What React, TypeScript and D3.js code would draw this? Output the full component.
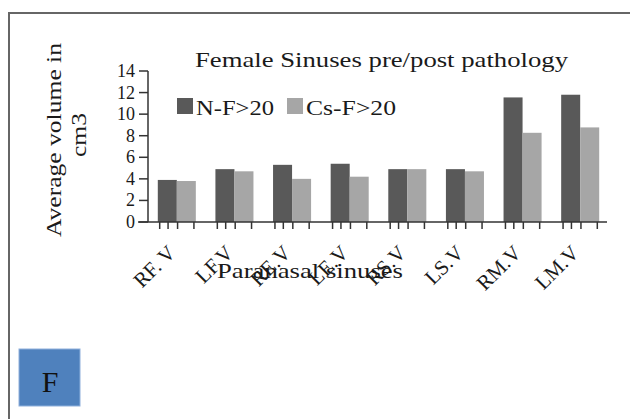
import React from "react";
import * as d3 from "d3";

const categories = ["RF. V", "LF.V", "RE.V", "LE.V", "RS.V", "LS.V", "RM.V", "LM.V"];
const seriesNames = ["N-F>20", "Cs-F>20"];
const normalValues = [3.9, 4.9, 5.3, 5.4, 4.9, 4.9, 11.55, 11.8];
const caseValues = [3.8, 4.7, 4.0, 4.2, 4.9, 4.7, 8.27, 8.77];
const yTicks = [0, 2, 4, 6, 8, 10, 12, 14];
const colors = ["#595959", "#a6a6a6"];

const W = 630;
const H = 419;
const FONT = "'Liberation Serif', 'Times New Roman', serif";
const INK = "#1a1a1a";

export default function App() {
  const x0 = 148;
  const x1 = 609;
  const y0 = 222;
  const y1 = 71;

  const x = d3.scaleBand<string>().domain(categories).range([x0, x1]).paddingInner(0.34).paddingOuter(0.17);
  const xs = d3.scaleBand<string>().domain(seriesNames).range([0, x.bandwidth()]);
  const y = d3.scaleLinear().domain([0, 14]).range([y0, y1]);

  const series = [normalValues, caseValues];
  const tickOffsets = [0.05, 0.27, 0.52, 0.95];

  const legendX = [177, 287];
  const legendLen = [78, 90];

  return (
    <svg
      width={W}
      height={H}
      style={{ position: "absolute", left: 0, top: 0, display: "block", background: "#fff" }}
      fontFamily={FONT}
    >
      <rect x={0} y={0} width={W} height={H} fill="#fff" />
      {/* outer frame */}
      <rect x={9} y={13} width={W + 20} height={H + 20} fill="none" stroke="#666" strokeWidth={2} />

      {/* title */}
      <text x={195} y={67} fontSize={22} fill={INK} textLength={373} lengthAdjust="spacingAndGlyphs">
        Female Sinuses pre/post pathology
      </text>

      {/* bars */}
      {categories.map((c, i) => (
        <g key={c}>
          {series.map((vals, s) => (
            <rect
              key={s}
              x={(x(c) ?? 0) + (xs(seriesNames[s]) ?? 0)}
              y={y(vals[i])}
              width={xs.bandwidth()}
              height={y0 - y(vals[i])}
              fill={colors[s]}
            />
          ))}
          {tickOffsets.map((o, k) => {
            const tx = (x(c) ?? 0) + o * x.bandwidth();
            return <line key={k} x1={tx} x2={tx} y1={y0} y2={y0 + 7} stroke="#333" strokeWidth={1.5} />;
          })}
        </g>
      ))}

      {/* y axis */}
      <line x1={x0} x2={x0} y1={y1} y2={y0} stroke="#333" strokeWidth={1.5} />
      {yTicks.map((t) => (
        <g key={t}>
          <line x1={x0 - 9} x2={x0} y1={y(t)} y2={y(t)} stroke="#333" strokeWidth={1.5} />
          <text x={x0 - 13} y={y(t)} dy="0.33em" textAnchor="end" fontSize={18} fill={INK}>
            {t}
          </text>
        </g>
      ))}

      {/* x axis */}
      <line x1={138} x2={607} y1={y0} y2={y0} stroke="#333" strokeWidth={1.5} />

      {/* category labels */}
      {categories.map((c) => {
        const cx = (x(c) ?? 0) + x.bandwidth() / 2;
        return (
          <text
            key={c}
            transform={`translate(${cx},${y0 + 32}) rotate(-45)`}
            textAnchor="end"
            fontSize={21}
            fill={INK}
          >
            {c}
          </text>
        );
      })}

      {/* axis titles */}
      <text x={217} y={278} fontSize={22} fill={INK} textLength={186} lengthAdjust="spacingAndGlyphs">
        Paranasal sinuses
      </text>
      <text
        transform="translate(61,140) rotate(-90)"
        textAnchor="middle"
        fontSize={22}
        fill={INK}
        textLength={194}
        lengthAdjust="spacingAndGlyphs"
      >
        Average volume in
      </text>
      <text
        transform="translate(86,135) rotate(-90)"
        textAnchor="middle"
        fontSize={22}
        fill={INK}
        textLength={44}
        lengthAdjust="spacingAndGlyphs"
      >
        cm3
      </text>

      {/* legend */}
      {seriesNames.map((n, i) => (
        <g key={n}>
          <rect x={legendX[i]} y={98} width={16} height={16} fill={colors[i]} />
          <text
            x={legendX[i] + 19}
            y={115}
            fontSize={21}
            fill={INK}
            textLength={legendLen[i]}
            lengthAdjust="spacingAndGlyphs"
          >
            {n}
          </text>
        </g>
      ))}

      {/* panel tag */}
      <rect x={19} y={349} width={61} height={57} fill="#4f81bd" stroke="#8fb0dc" strokeWidth={1} />
      <text x={50} y={392} textAnchor="middle" fontSize={30} fill="#111">
        F
      </text>
    </svg>
  );
}
